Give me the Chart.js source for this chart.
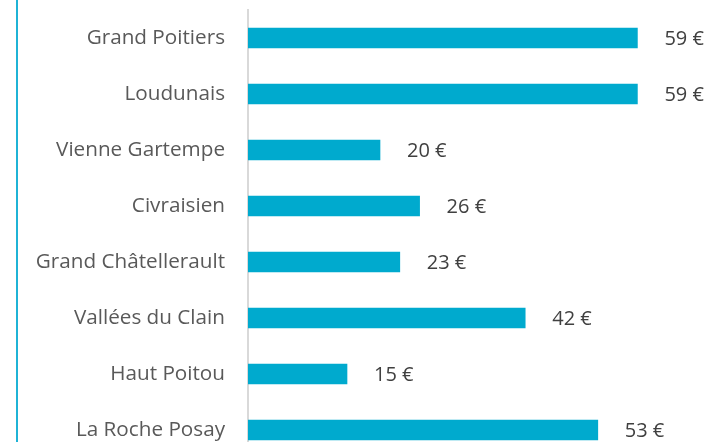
<!DOCTYPE html>
<html>
<head>
<meta charset="utf-8">
<script src="https://cdn.jsdelivr.net/npm/chart.js@4"></script>
<style>
  html, body { margin: 0; padding: 0; background: #fff; overflow: hidden; }
  #wrap { position: relative; width: 713px; height: 442px; overflow: hidden; }
  #frame { position: absolute; left: 16px; top: 0; width: 2px; height: 442px; background: #1fb3d6; }
  canvas { position: absolute; left: 0; top: 0; }
</style>
</head>
<body>
<div id="wrap">
  <div id="frame"></div>
  <canvas id="chart" width="713" height="460"></canvas>
</div>
<script>
const territoires = ['Grand Poitiers', 'Loudunais', 'Vienne Gartempe', 'Civraisien',
  'Grand Châtellerault', 'Vallées du Clain', 'Haut Poitou', 'La Roche Posay'];
const montants = [59, 59, 20, 26, 23, 42, 15, 53];

const fontFamily = '"Open Sans", sans-serif';

// etiquettes de valeur a droite des barres
const valeurs = {
  id: 'valeurs',
  afterDatasetsDraw(chart) {
    const ctx = chart.ctx;
    const meta = chart.getDatasetMeta(0);
    ctx.save();
    ctx.font = '20px ' + fontFamily;
    ctx.fillStyle = '#404040';
    ctx.textAlign = 'left';
    ctx.textBaseline = 'middle';
    meta.data.forEach((bar, i) => {
      ctx.fillText(montants[i] + ' €', bar.x + 27, bar.y + 1);
    });
    ctx.restore();
  }
};

new Chart(document.getElementById('chart'), {
  type: 'bar',
  data: {
    labels: territoires,
    datasets: [{
      data: montants,
      backgroundColor: '#00AACE',
      barThickness: 20
    }]
  },
  options: {
    indexAxis: 'y',
    responsive: false,
    animation: false,
    layout: { padding: { top: 10, right: 3, bottom: 2 } },
    plugins: { legend: { display: false }, tooltip: { enabled: false } },
    scales: {
      x: { display: false, min: 0, max: 70 },
      y: {
        afterFit(axis) {
          axis.width = 248;
          axis.paddingTop = 0;
          axis.paddingBottom = 0;
        },
        grid: { display: false, drawTicks: false },
        border: { display: true, color: '#d9d9d9', width: 2 },
        ticks: { color: '#595959', padding: 23, font: { family: fontFamily, size: 20.7 } }
      }
    }
  },
  plugins: [valeurs]
});
</script>
</body>
</html>
